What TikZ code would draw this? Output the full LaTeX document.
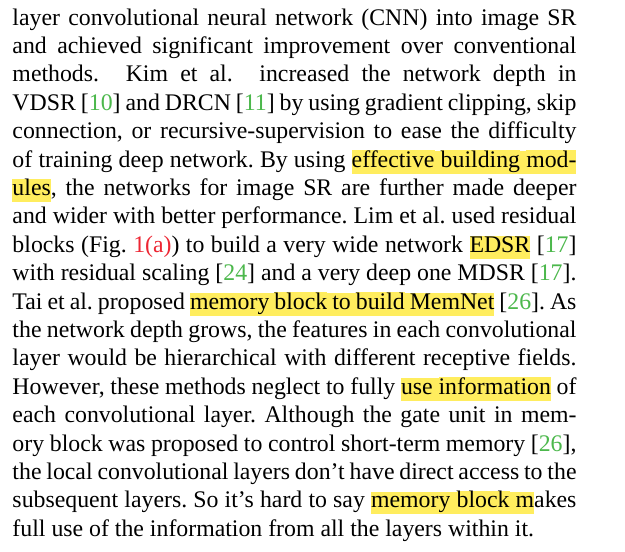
\documentclass[tikz,border=0pt]{standalone}
\usepackage{fontspec}
\setmainfont{Liberation Serif}
\usetikzlibrary{positioning}
\definecolor{hly}{rgb}{1,0.93,0.37}
\definecolor{citeg}{rgb}{0.3,0.72,0.3}
\definecolor{figred}{rgb}{0.93,0.15,0.2}
\newcommand\hlstrut{\rule[-6.5pt]{0pt}{22.5pt}}
\newcommand\hw[1]{{\setlength\fboxsep{0pt}\colorbox{hly}{\hlstrut#1}}}
\newcommand\hs{{\color{hly}\leaders\vrule height 16pt depth 6.5pt\hskip\fontdimen2\font plus\fontdimen3\font minus\fontdimen4\font}}
\newcommand\ct[1]{[{\color{citeg}#1}]}
\newcommand\jl[1]{\makebox[564pt][s]{#1}}
\tikzset{txtline/.style={anchor=base west, inner sep=0pt, outer sep=0pt, font=\fontsize{23.8pt}{28.4pt}\selectfont}}
\begin{document}
\begin{tikzpicture}[x=1pt,y=-1pt]
\useasboundingbox (0,0) rectangle (625,552);
\fill[white] (0,0) rectangle (625,552);
\frenchspacing
\node[txtline] (l1) at (12.5,25.0) {\jl{layer convolutional neural network (CNN) into image SR}};
\node[txtline] (l2) at (12.5,53.4) {\jl{and achieved significant improvement over conventional}};
\node[txtline] (l3) at (12.5,81.8) {\nonfrenchspacing\jl{methods. Kim et al. increased the network depth in}};
\node[txtline] (l4) at (12.5,110.2) {\jl{VDSR \ct{10} and DRCN \ct{11} by using gradient clipping, skip}};
\node[txtline] (l5) at (12.5,138.6) {\jl{connection, or recursive-supervision to ease the difficulty}};
\node[txtline] (l6) at (12.5,167.0) {\jl{of training deep network. By using \hw{effective}\hs\hw{building}\hs\hw{mod-}}};
\node[txtline] (l7) at (12.5,195.4) {\jl{\hw{ules}, the networks for image SR are further made deeper}};
\node[txtline] (l8) at (12.5,223.8) {\jl{and wider with better performance. Lim et al. used residual}};
\node[txtline] (l9) at (12.5,252.2) {\jl{blocks (Fig. {\color{figred}1(a)}) to build a very wide network \hw{EDSR} \ct{17}}};
\node[txtline] (l10) at (12.5,280.6) {\jl{with residual scaling \ct{24} and a very deep one MDSR \ct{17}.}};
\node[txtline] (l11) at (12.5,309.0) {\jl{Tai et al. proposed \hw{memory}\hs\hw{block}\hs\hw{to}\hs\hw{build}\hs\hw{MemNet} \ct{26}. As}};
\node[txtline] (l12) at (12.5,337.4) {\jl{the network depth grows, the features in each convolutional}};
\node[txtline] (l13) at (12.5,365.8) {\jl{layer would be hierarchical with different receptive fields.}};
\node[txtline] (l14) at (12.5,394.2) {\jl{However, these methods neglect to fully \hw{use}\hs\hw{information} of}};
\node[txtline] (l15) at (12.5,422.6) {\jl{each convolutional layer. Although the gate unit in mem-}};
\node[txtline] (l16) at (12.5,451.0) {\jl{ory block was proposed to control short-term memory \ct{26},}};
\node[txtline] (l17) at (12.5,479.4) {\jl{the local convolutional layers don’t have direct access to the}};
\node[txtline] (l18) at (12.5,507.8) {\jl{subsequent layers. So it’s hard to say \hw{memory}\hs\hw{block}\hs\hw{m}akes}};
\node[txtline] (l19) at (12.5,536.2) {full use of the information from all the layers within it.};
\end{tikzpicture}
\end{document}
